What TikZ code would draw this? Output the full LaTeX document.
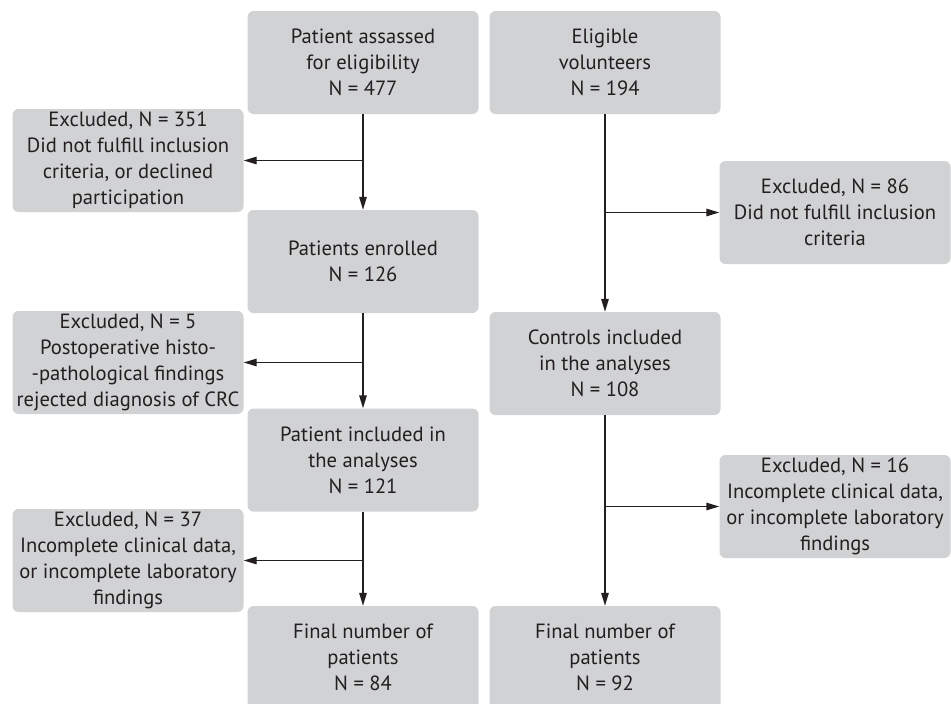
\documentclass[tikz,border=0pt]{standalone}
\usepackage{fontspec}
\setmainfont{PT Sans}
\usepackage{tikz}
\usepackage{xcolor}
\usetikzlibrary{arrows.meta,calc,positioning}
\definecolor{boxgray}{HTML}{D1D2D4}
\definecolor{ink}{HTML}{231F20}

\begin{document}
\begin{tikzpicture}[
      x=1pt, y=-1pt,
      mainbox/.style={fill=boxgray, rounded corners=6pt, minimum height=103pt, minimum width=231pt, align=center, text=ink, font=\fontsize{20.6}{26}\selectfont, inner sep=0pt},
      exbox/.style={fill=boxgray, rounded corners=6pt, minimum height=103pt, minimum width=231pt, align=center, text=ink, font=\fontsize{20.6}{26}\selectfont, inner sep=0pt},
      arr/.style={-{Triangle[length=13pt,width=7.5pt]}, line width=1.4pt, draw=ink}
  ]
    \useasboundingbox (0,0) rectangle (951,704);

    % patients
    \node[mainbox] (pAssess) at (363,62.5) {Patient assassed\\for eligibility\\N = 477};
    \node[mainbox] (pEnrol) at (363,261.5) {Patients enrolled\\N = 126};
    \node[mainbox] (pIncl) at (363,460) {Patient included in\\the analyses\\N = 121};
    \node[mainbox] (pFinal) at (363,657.5) {Final number of\\patients\\N = 84};
    \node[exbox] (pEx1) at (128,160.5) {Excluded, N = 351\\Did not fulfill inclusion\\criteria, or declined\\participation};
    \node[exbox] (pEx2) at (128,362.5) {Excluded, N = 5\\Postoperative histo-\\-pathological findings\\rejected diagnosis of CRC};
    \node[exbox] (pEx3) at (128,560.5) {Excluded, N = 37\\Incomplete clinical data,\\or incomplete laboratory\\findings};
    \draw[arr] (pAssess) -- (pEnrol);
    \draw[arr] (pEnrol) -- (pIncl);
    \draw[arr] (pIncl) -- (pFinal);
    \draw[arr] (pEx1.east -| pAssess.south) -- (pEx1.east);
    \draw[arr] (pEx2.east -| pEnrol.south) -- (pEx2.east);
    \draw[arr] (pEx3.east -| pIncl.south) -- (pEx3.east);

    % controls
    \node[mainbox] (cElig) at (605,62.5) {Eligible\\volunteers\\N = 194};
    \node[mainbox] (cIncl) at (605,363.5) {Controls included\\in the analyses\\N = 108};
    \node[mainbox] (cFinal) at (605,657.5) {Final number of\\patients\\N = 92};
    \node[exbox] (cEx1) at (835,212.5) {Excluded, N = 86\\Did not fulfill inclusion\\criteria};
    \node[exbox] (cEx2) at (835,506.5) {Excluded, N = 16\\Incomplete clinical data,\\or incomplete laboratory\\findings};
    \draw[arr] (cElig) -- (cIncl);
    \draw[arr] (cIncl) -- (cFinal);
    \draw[arr] (cEx1.west -| cElig.south) -- (cEx1.west);
    \draw[arr] (cEx2.west -| cIncl.south) -- (cEx2.west);
  \end{tikzpicture}
\end{document}
